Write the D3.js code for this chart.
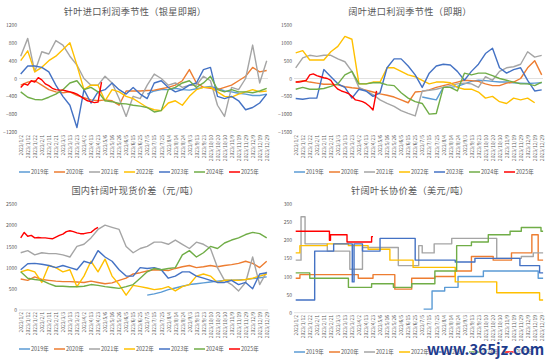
<!DOCTYPE html>
<html><head><meta charset="utf-8">
<script src="https://cdn.jsdelivr.net/npm/d3@7"></script>
<style>
body{margin:0;background:#fff}
svg{display:block}
text{font-family:"Noto Sans CJK SC","Noto Sans",sans-serif}
</style>
</head><body>
<svg id="c" width="550" height="360"></svg>
<script>
// ---------- categories / labels ----------
const dateLabels = ["2023/1/2","2023/1/12","2023/1/22","2023/2/1","2023/2/11","2023/2/21","2023/3/3","2023/3/13","2023/3/23","2023/4/2","2023/4/13","2023/4/23","2023/5/6","2023/5/16","2023/5/26","2023/6/5","2023/6/15","2023/6/25","2023/7/5","2023/7/15","2023/7/25","2023/8/4","2023/8/14","2023/8/24","2023/9/3","2023/9/13","2023/9/23","2023/10/10","2023/10/20","2023/10/30","2023/11/9","2023/11/19","2023/11/29","2023/12/9","2023/12/19","2023/12/29"];
const yearNames = ["2019年","2020年","2021年","2022年","2023年","2024年","2025年"];
const yearColors = ["#5B9BD5","#ED7D31","#A5A5A5","#FFC000","#4472C4","#70AD47","#FF0000"];
const titles = ["针叶进口利润季节性（银星即期）","阔叶进口利润季节性（即期）","国内针阔叶现货价差（元/吨）","针阔叶长协价差（美元/吨）"];
const yTicks1 = [-1200,-800,-400,0,400,800,1200];
const yTicks2 = [-1500,-1000,-500,0,500,1000,1500];
const yTicks3 = [0,500,1000,1500,2000,2500];
const yTicks4 = [0,50,100,150,200,250,300];
const N = null;

// ---------- panel 1: 针叶进口利润 (one value per date label; 2025 every half label) ----------
const p1_2019 = [N,N,N,N,N,N,N,N,N,N,N,N,N,N,N,N,N,N,-350,-280,-250,-250,-220,-250,-260,-230,-200,-180,-220,-280,-300,-330,-350,-380,-380,-350];
const p1_2020 = [-150,-80,-50,-150,-250,-300,-320,-300,-380,-430,-480,-500,-480,-500,-600,-280,-280,-280,-270,-260,-230,-200,-150,-50,200,-100,-200,-220,-250,-200,-150,-50,50,250,150,180];
const p1_2021 = [500,900,150,600,550,850,750,500,300,0,-150,-150,50,-100,-450,-850,-400,-450,-150,100,0,-150,-100,-200,-150,-150,50,-50,-600,-850,-200,-250,0,750,-100,400];
const p1_2022 = [400,620,150,250,400,500,650,800,300,-250,-150,-150,-500,-250,-300,-400,-450,-550,-650,-700,-720,-550,-500,-600,-400,-250,-200,-200,-300,-400,-420,-350,-300,-250,-300,-280];
const p1_2023 = [100,280,280,250,150,-150,-400,-600,-1100,-250,-550,-300,-250,-100,-250,-350,-200,-350,-450,-100,-50,-200,-300,-250,-150,-100,200,250,-400,-450,-400,-500,-700,-650,-550,-350];
const p1_2024 = [-300,-420,-470,-480,-420,-350,-250,-100,-50,-250,-200,-300,-500,-520,-560,-570,-600,-620,-650,-750,-720,-250,-200,-100,-50,-200,-100,50,-250,-300,-250,-300,-300,-320,-280,-220];
const p1_2025 = [-200,-120,-150,-50,-80,20,-30,-120,-160,-220,-250,-260,-260,-280,-300,-320,-350,-400,-450,-500,-520,-540,-530,-80];

// ---------- panel 2: 阔叶进口利润 ----------
const p2_2019 = [N,N,N,N,N,N,N,N,N,N,N,N,N,N,N,N,N,N,-520,-560,-600,-250,-250,-220,-150,-80,-50,-60,-80,-100,-100,-120,-130,-140,-130,-120];
const p2_2020 = [-100,-60,-100,-130,-160,-160,-180,-230,-260,-280,-330,-380,-430,-470,-520,-600,-680,-380,-360,-320,-250,-200,-150,-100,-50,-60,-80,-150,-200,-200,-130,-100,0,300,500,100];
const p2_2021 = [300,580,650,620,650,650,550,470,200,-250,-350,-450,-600,-700,-780,-900,-980,-1050,-350,-330,-300,-250,-200,-150,-130,-150,-250,50,-50,200,300,330,400,750,600,650];
const p2_2022 = [720,780,520,520,520,750,900,1180,1100,-150,-150,-100,-100,300,300,200,100,50,-50,-150,-100,-100,-120,-250,-300,-300,-380,-550,-500,-650,-700,-550,-600,-550,-680,N];
const p2_2023 = [-560,-580,-550,-550,250,50,-150,-250,-550,-300,-350,-500,-400,300,550,550,350,100,-250,150,350,400,380,200,-50,200,400,700,850,300,150,250,300,-50,-350,-320];
const p2_2024 = [-300,-250,-300,-300,-280,-220,-150,100,200,-150,-150,-120,-120,-180,-200,-400,-550,-650,-700,-1000,-980,-250,-250,-350,150,100,150,150,80,0,-50,-100,-150,-150,-200,-100];
const p2_2025 = [-100,-100,-80,-50,100,130,80,50,20,0,-50,-200,-300,-350,-380,-420,-500,-600,-620,-650,-700,-780,-880,-350];

// ---------- panel 3: 国内针阔叶现货价差 ----------
const p3_2019 = [N,N,N,N,N,N,N,N,N,N,N,N,N,N,N,N,N,N,350,380,420,480,520,560,600,620,640,660,680,700,700,710,720,740,760,780];
const p3_2020 = [730,700,780,720,700,680,670,670,660,650,680,650,620,640,700,750,850,880,920,950,940,930,980,1020,1050,1000,1020,1050,1020,1050,1070,1100,1150,1100,1000,1150];
const p3_2021 = [1350,1400,1300,1350,1330,1330,1300,1250,1500,1550,1700,1900,2000,1950,1900,1500,1350,1450,1500,1600,1600,1550,1650,1550,1450,1600,1550,1450,1000,700,600,450,650,1250,600,900];
const p3_2022 = [900,950,900,650,1050,1000,900,950,550,800,1150,900,1200,800,600,350,580,550,520,480,500,550,450,550,600,800,850,800,650,700,700,700,720,750,800,850];
const p3_2023 = [950,1090,1100,1080,1050,1000,1050,1000,950,1150,1100,1400,1250,1150,950,800,800,1000,980,1000,950,750,800,900,900,800,750,700,650,650,700,600,650,500,850,880];
const p3_2024 = [900,750,720,700,620,560,560,550,550,560,600,580,550,530,510,550,600,750,900,980,950,980,1000,1300,1400,1250,1350,1500,1450,1580,1650,1700,1780,1830,1800,1700];
const p3_2025 = [1700,1830,1740,1760,1700,1710,1700,1700,1690,1680,1720,1760,1790,1850,1870,1850,1820,1800,1800,1820,1830,1900,1950];

// ---------- panel 4: 长协价差, [label position, new price] change points ----------
const p4_2019 = [[18.2,10],[19.4,60],[21.2,70],[23.1,100],[26.7,115],[34.5,95],[35.2,95]];
const p4_2020 = [[0,95],[0.6,105],[8.9,95],[11,105],[14.1,65],[16.5,95],[19.8,100],[22.7,115],[25,155],[28.1,145],[30.7,165],[33.6,215],[34.5,145],[35.2,145]];
const p4_2021 = [[0,145],[0.76,265],[1.33,190],[4.5,170],[7.7,120],[9.5,180],[14.6,130],[17.5,185],[18,165],[19.7,190],[22.2,205],[28.6,150],[32.1,155],[33.8,165],[35.2,165]];
const p4_2022 = [[0,165],[0.6,185],[4.5,190],[7.5,185],[10.3,175],[13.4,145],[16.7,125],[22.7,85],[28.6,55],[34.7,35],[35.2,35]];
const p4_2023 = [[0,35],[2.7,170],[5.4,190],[8.05,85],[8.3,190],[9.5,170],[12,205],[17,145],[22.7,140],[25.5,150],[31.9,130],[34.7,110],[35.2,110]];
const p4_2024 = [[0,110],[2,95],[7.5,70],[10.8,80],[13.9,70],[16.5,80],[19.8,115],[22.9,185],[25,195],[27.4,215],[30.5,225],[32.1,235],[34.9,225],[35.2,225]];
const p4_2025 = [[0,225],[4.8,200],[4.95,215],[7.3,195],[10.8,210],[11,210]];

// ---------- build ----------
function toPts(vals, step){ return vals.map((v,i)=>[i*step, v]); }
function lineSeries(arrs){
  return arrs.map((a,k)=>({name:yearNames[k], color:yearColors[k], pts: toPts(a, k===6?0.5:1)}));
}
const panels = [
  {ox:0, oy:0, title:titles[0], ticks:yTicks1, dom:[-1200,1200], series:lineSeries([p1_2019,p1_2020,p1_2021,p1_2022,p1_2023,p1_2024,p1_2025]), step:false},
  {ox:275, oy:0, title:titles[1], ticks:yTicks2, dom:[-1500,1500], series:lineSeries([p2_2019,p2_2020,p2_2021,p2_2022,p2_2023,p2_2024,p2_2025]), step:false},
  {ox:0, oy:180, title:titles[2], ticks:yTicks3, dom:[0,2500], series:lineSeries([p3_2019,p3_2020,p3_2021,p3_2022,p3_2023,p3_2024,p3_2025]), step:false},
  {ox:275, oy:180, title:titles[3], ticks:yTicks4, dom:[0,300], series:[p4_2019,p4_2020,p4_2021,p4_2022,p4_2023,p4_2024,p4_2025].map((a,k)=>({name:yearNames[k], color:yearColors[k], pts:a})), step:true}
];

const svg = d3.select("#c");
const geo = [
  {top:25, bot:132, lab:135, leg:172, titleY:15},
  {top:25, bot:132, lab:135, leg:172, titleY:15},
  {top:24, bot:130, lab:132, leg:169, titleY:14},
  {top:24, bot:132.7, lab:135, leg:172, titleY:14}
];

panels.forEach((p,pi)=>{
  const G = geo[pi];
  const g = svg.append("g").attr("transform",`translate(${p.ox},${p.oy})`);
  const x = d3.scaleLinear().domain([0,35]).range([20.7,266.7]);
  const y = d3.scaleLinear().domain(p.dom).range([G.bot,G.top]);

  g.append("text").attr("x",135).attr("y",G.titleY).attr("text-anchor","middle")
    .attr("font-size",9.2).attr("fill","#595959").attr("letter-spacing",0.3).text(p.title);

  // y axis labels
  const ya = g.append("g").attr("transform","translate(17,0)")
    .call(d3.axisLeft(y).tickValues(p.ticks).tickSize(0).tickPadding(0).tickFormat(d3.format("d")));
  ya.select(".domain").remove();
  ya.selectAll("text").attr("font-size",5).attr("fill","#595959").attr("font-family","Noto Sans, sans-serif");

  // category axis line at value 0
  g.append("line").attr("x1",19).attr("x2",268).attr("y1",y(0)).attr("y2",y(0))
    .attr("stroke","#d9d9d9").attr("stroke-width",0.8);

  // x labels
  const xa = g.append("g").attr("transform",`translate(0,${G.lab})`)
    .call(d3.axisBottom(x).tickValues(d3.range(dateLabels.length)).tickSize(0).tickFormat(i=>dateLabels[i]));
  xa.select(".domain").remove();
  xa.selectAll("text").attr("font-size",5).attr("fill","#595959").attr("font-family","Noto Sans, sans-serif")
    .attr("text-anchor","end").attr("transform","rotate(-90)").attr("x",0).attr("y",0).attr("dx",0).attr("dy","0.35em");

  // series
  const line = d3.line().defined(d=>d[1]!==null).x(d=>x(d[0])).y(d=>y(d[1]))
    .curve(p.step ? d3.curveStepAfter : d3.curveLinear);
  p.series.forEach(s=>{
    g.append("path").datum(s.pts).attr("d",line).attr("fill","none")
      .attr("stroke",s.color).attr("stroke-width",1.4).attr("stroke-linejoin","round");
  });

  // legend
  const lg = g.append("g").attr("transform",`translate(19,${G.leg})`);
  yearNames.forEach((n,k)=>{
    const it = lg.append("g").attr("transform",`translate(${k*35},0)`);
    it.append("line").attr("x1",0).attr("x2",11).attr("y1",0).attr("y2",0).attr("stroke",yearColors[k]).attr("stroke-width",1.5);
    it.append("text").attr("x",12).attr("y",0).attr("dy","0.35em").attr("font-size",5.5).attr("fill","#595959").text(n);
  });
});

// watermark
svg.append("text").attr("x",427).attr("y",355).attr("font-size",15).attr("font-weight","bold")
  .attr("font-family","DejaVu Sans, sans-serif").attr("fill","#1f3c8c").attr("stroke","#fff").attr("stroke-width",0.6)
  .attr("paint-order","stroke").text("www.365jz.com");
</script>
</body></html>
